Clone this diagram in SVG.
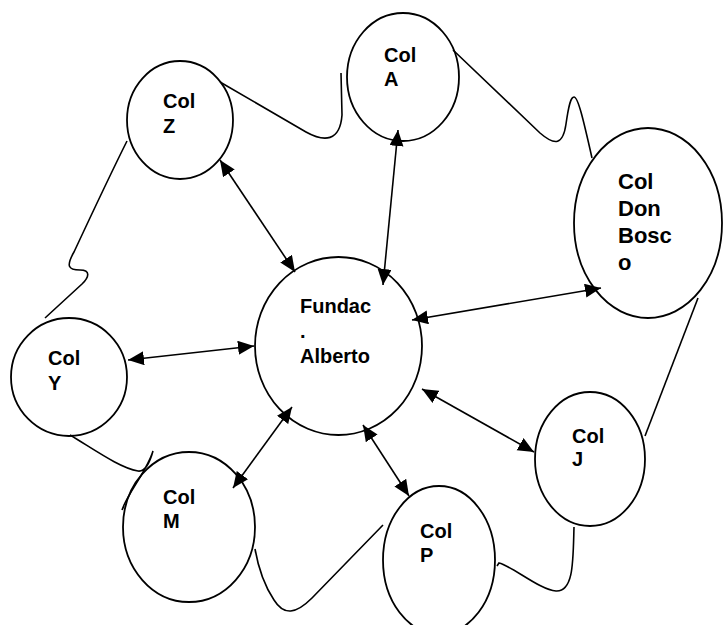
<svg xmlns="http://www.w3.org/2000/svg" width="723" height="625" viewBox="0 0 723 625">
<style>
.node{fill:#fff;stroke:#000;stroke-width:1.8}
.lbl{font-family:"Liberation Sans",Arial,sans-serif;font-weight:bold;font-size:20px;fill:#000}
.big{font-size:22px}
.curve{fill:none;stroke:#000;stroke-width:1.6}
.arr{fill:none;stroke:#000;stroke-width:1.6;marker-start:url(#ah);marker-end:url(#ah)}
</style>
<defs>
<marker id="ah" markerUnits="userSpaceOnUse" markerWidth="17" markerHeight="15" refX="16" refY="7" orient="auto-start-reverse">
<path d="M0,0 L16,7 L0,14 z" fill="#000"/>
</marker>
</defs>
<rect width="723" height="625" fill="#fff"/>
<g id="colZ">
<ellipse class="node" cx="180" cy="120" rx="53" ry="59"/>
<text class="lbl" x="163" y="108">Col</text>
<text class="lbl" x="163" y="133">Z</text>
</g>
<g id="colA">
<ellipse class="node" cx="403" cy="77" rx="56" ry="64"/>
<text class="lbl" x="384" y="62">Col</text>
<text class="lbl" x="384" y="86">A</text>
</g>
<g id="colDonBosco">
<ellipse class="node" cx="648" cy="223" rx="74" ry="95"/>
<text class="lbl big" x="618" y="189">Col</text>
<text class="lbl big" x="618" y="216">Don</text>
<text class="lbl big" x="618" y="243">Bosc</text>
<text class="lbl big" x="618" y="270">o</text>
</g>
<g id="fundacAlberto">
<ellipse class="node" cx="338.5" cy="346" rx="83.5" ry="89"/>
<text class="lbl" x="300" y="313">Fundac</text>
<text class="lbl" x="300" y="338">.</text>
<text class="lbl" x="300" y="363">Alberto</text>
</g>
<g id="colY">
<ellipse class="node" cx="69" cy="377" rx="58" ry="59"/>
<text class="lbl" x="48" y="365">Col</text>
<text class="lbl" x="48" y="390">Y</text>
</g>
<g id="colM">
<ellipse class="node" cx="189" cy="527" rx="66" ry="75"/>
<text class="lbl" x="163" y="504">Col</text>
<text class="lbl" x="163" y="528">M</text>
</g>
<g id="colP">
<ellipse class="node" cx="439" cy="560" rx="56" ry="74"/>
<text class="lbl" x="420" y="538">Col</text>
<text class="lbl" x="420" y="562">P</text>
</g>
<g id="colJ">
<ellipse class="node" cx="590" cy="459" rx="55" ry="67"/>
<text class="lbl" x="572" y="443">Col</text>
<text class="lbl" x="572" y="466">J</text>
</g>
<g id="connectors">
<path class="curve" d="M127,141 C110,175 88,222 74,252 C66,266 68,270 80,270 C91,270 89,277 82,284 L45,318"/>
<path class="curve" d="M220,82 L306,132 C324,142 340,142 342,115 L341,73"/>
<path class="curve" d="M453,50 L540,133 C555,146 563,145 566,124 C569,103 571,97 574,97 C578,97 583,118 592,158"/>
<path class="curve" d="M698,298 L645,436"/>
<path class="curve" d="M574,527 C573,560 574,592 556,591 C540,590 512,566 499,563 L497,566"/>
<path class="curve" d="M383,525 L312,598 C296,614 284,616 274,600 C264,585 258,566 255,549"/>
<path class="curve" d="M70,435 C95,450 120,468 138,471 C145,472 150,462 153,451 C148,468 132,488 124,505 L122,510 L124,506"/>
<line class="arr" x1="220" y1="160" x2="295" y2="272"/>
<line class="arr" x1="398" y1="130" x2="383" y2="285"/>
<line class="arr" x1="412" y1="320" x2="601" y2="288"/>
<line class="arr" x1="128" y1="360" x2="254" y2="346"/>
<line class="arr" x1="422" y1="389" x2="534" y2="452"/>
<line class="arr" x1="363" y1="425" x2="409" y2="496"/>
<line class="arr" x1="292" y1="407" x2="233" y2="488"/>
</g>
</svg>
